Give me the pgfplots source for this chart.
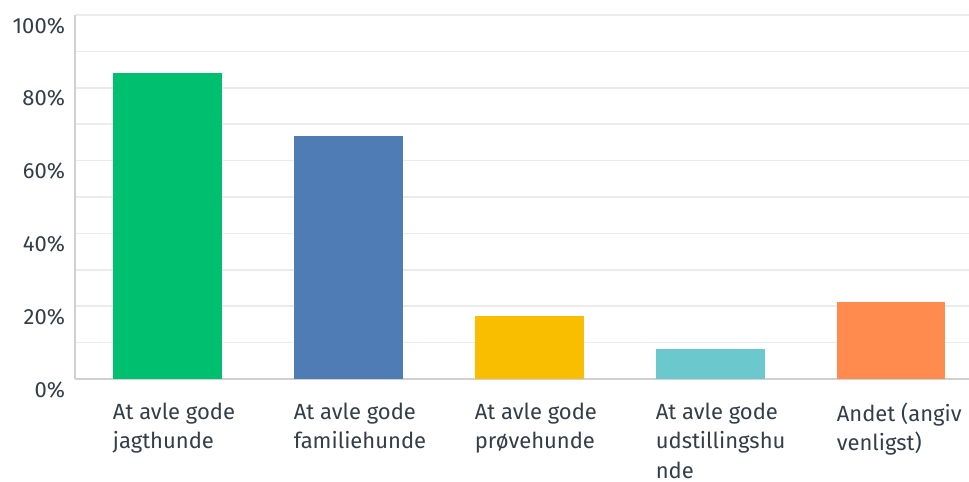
\documentclass[border=0pt]{standalone}
\usepackage{pgfplots}
\pgfplotsset{compat=1.18}
\usepackage{fontspec}
\setmainfont{Fira Sans}

\definecolor{txt}{HTML}{333E48}
\definecolor{gridc}{HTML}{EBEBEB}
\definecolor{axc}{HTML}{D0D0D0}
\definecolor{c1}{HTML}{00BF6F}
\definecolor{c2}{HTML}{507CB6}
\definecolor{c3}{HTML}{F9BE00}
\definecolor{c4}{HTML}{6BC8CD}
\definecolor{c5}{HTML}{FF8B4F}

\begin{document}
\begin{tikzpicture}
\useasboundingbox (0pt,0pt) rectangle (726.75pt,360.75pt);
\begin{axis}[
    at={(56.25pt,76.5pt)}, anchor=south west,
    width=670.5pt, height=273pt, scale only axis,
    ybar,
    bar width=0.6,
    xmin=-0.51, xmax=4.43,
    ymin=0, ymax=100,
    xtick={0,1,2,3,4},
    xticklabels={
        At avle gode\\jagthunde,
        At avle gode\\familiehunde,
        At avle gode\\prøvehunde,
        At avle gode\\udstillingshu\\nde,
        Andet (angiv\\venligst)},
    ytick={0,20,...,100},
    minor ytick={10,30,...,90},
    yticklabel={\pgfmathprintnumber{\tick}\%},
    /pgf/number format/assume math mode=true,
    ymajorgrids, yminorgrids,
    major grid style={gridc, line width=1.1pt},
    minor grid style={gridc, line width=1.1pt},
    axis x line*=bottom, axis y line*=left,
    axis line style={axc, line width=1.1pt, -},
    major tick length=0pt, minor tick length=0pt,
    tick style={draw=none},
    xticklabel style={font=\fontsize{16.5}{22.2}\selectfont, text=txt,
        align=left, anchor=north west, inner sep=0pt,
        xshift=-41pt, yshift=-17.5pt},
    yticklabel style={font=\fontsize{16.5}{18}\selectfont, text=txt,
        anchor=east, xshift=-4pt, yshift=-8pt},
]
\addplot[fill=c1, draw=none, bar shift=0pt] coordinates {(0,84.1)};
\addplot[fill=c2, draw=none, bar shift=0pt] coordinates {(1,66.8)};
\addplot[fill=c3, draw=none, bar shift=0pt] coordinates {(2,17.3)};
\addplot[fill=c4, draw=none, bar shift=0pt] coordinates {(3,8.2)};
\addplot[fill=c5, draw=none, bar shift=0pt] coordinates {(4,21.2)};
\end{axis}
\end{tikzpicture}
\end{document}
